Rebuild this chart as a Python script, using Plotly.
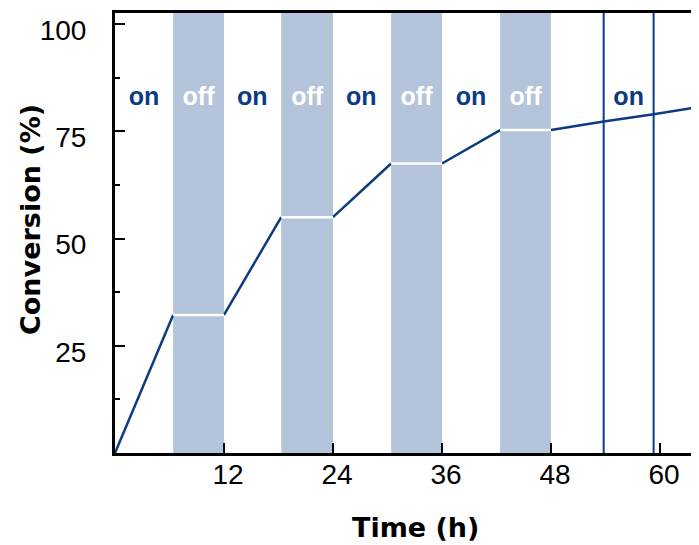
import plotly.graph_objects as go

# ---- data ----
off_start = [6.4, 18.3, 30.4, 42.4]
off_end = [12, 24, 36, 48]
off_level = [32.2, 55.0, 67.5, 75.3]
final_time = [53.8, 59.3, 64.3]
final_conv = [77.3, 79.0, 80.7]
marker_lines = [53.8, 59.3]
on_label_x = [3.2, 15.1, 27.1, 39.2, 56.55]
off_label_x = [9.2, 21.15, 33.2, 45.2]
label_y = 82.5
x_ticks = [12, 24, 36, 48, 60]
y_ticks = [25, 50, 75, 100]

BLUE = "#0c3b84"
BAND = "#b4c4da"

# page body has an 8px margin; figure is sized/offset to compensate
OFF = 8
W, H = 699 - 2 * OFF, 545 - OFF
L, T, B = 115 - OFF, 13 - OFF, 545 - 453
PW, PH = W - L, H - T - B
X_MAX = PW / 9.083  # keep 9.083 px per hour as in the reference

fig = go.Figure()

for s, e in zip(off_start, off_end):
    fig.add_vrect(x0=s, x1=e, y0=0, y1=1, fillcolor=BAND, opacity=1, line_width=0, layer="below")

for xv in marker_lines:
    fig.add_shape(type="line", x0=xv, x1=xv, y0=0, y1=1, xref="x", yref="paper",
                  line=dict(color=BLUE, width=2))

bx, by = [], []
prev_t, prev_c = 0, 0
for s, e, lvl in zip(off_start, off_end, off_level):
    bx += [prev_t, s, None]
    by += [prev_c, lvl, None]
    prev_t, prev_c = e, lvl
bx += [prev_t] + final_time
by += [prev_c] + final_conv
fig.add_trace(go.Scatter(x=bx, y=by, mode="lines", line=dict(color=BLUE, width=2.5),
                         hoverinfo="skip", showlegend=False))

wx, wy = [], []
for s, e, lvl in zip(off_start, off_end, off_level):
    wx += [s, e, None]
    wy += [lvl, lvl, None]
fig.add_trace(go.Scatter(x=wx, y=wy, mode="lines", line=dict(color="white", width=2.5),
                         hoverinfo="skip", showlegend=False))

fig.add_trace(go.Scatter(x=on_label_x, y=[label_y]*len(on_label_x), mode="text",
                         text=["on"]*len(on_label_x),
                         textfont=dict(family="Liberation Sans, Arial", size=25, color=BLUE, weight="bold"),
                         hoverinfo="skip", showlegend=False))
fig.add_trace(go.Scatter(x=off_label_x, y=[label_y]*len(off_label_x), mode="text",
                         text=["off"]*len(off_label_x),
                         textfont=dict(family="Liberation Sans, Arial", size=25, color="white", weight="bold"),
                         hoverinfo="skip", showlegend=False))

fig.update_layout(
    width=W, height=H,
    margin=dict(l=L, r=0, t=T, b=B, autoexpand=False),
    plot_bgcolor="white", paper_bgcolor="white",
    font=dict(family="Liberation Sans, Arial", size=28, color="black"),
    showlegend=False,
)
fig.update_xaxes(
    range=[0, X_MAX], tickvals=x_ticks, ticks="inside", ticklen=10, tickwidth=2, tickcolor="black",
    showline=True, linecolor="black", linewidth=3, mirror=True, showgrid=False, zeroline=False,
    ticklabelstandoff=-6, ticklabelshift=4, automargin=False, ticklabeloverflow="allow",
)
fig.update_yaxes(
    range=[0, 102.6], tickvals=y_ticks, ticks="inside", ticklen=10, tickwidth=2, tickcolor="black",
    minor=dict(tick0=0, dtick=12.5, ticks="inside", ticklen=5, tickwidth=2, tickcolor="black", showgrid=False),
    showline=True, linecolor="black", linewidth=3, showgrid=False, zeroline=False,
    ticklabelstandoff=20, ticklabelshift=6, automargin=False, ticklabeloverflow="allow",
)
fig.add_annotation(text="<b>Time (h)</b>", xref="paper", x=(415-115)/PW, yref="paper", y=(453-527)/PH,
                   yanchor="middle", xanchor="center", showarrow=False,
                   font=dict(family="DejaVu Sans", size=27, color="black"))
fig.add_annotation(text="<b>Conversion (%)</b>", xref="paper", x=(30-115)/PW, yref="paper", y=(453-220)/PH,
                   textangle=-90, xanchor="center", yanchor="middle", showarrow=False,
                   font=dict(family="DejaVu Sans", size=27, color="black"))

fig.write_html("out.html")
